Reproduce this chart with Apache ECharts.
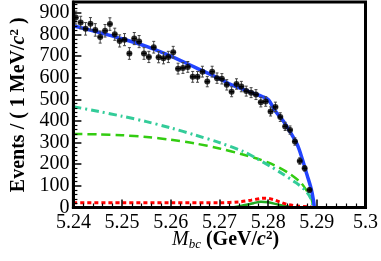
<!DOCTYPE html>
<html><head><meta charset="utf-8">
<script src="https://cdn.jsdelivr.net/npm/echarts@6/dist/echarts.min.js"></script>
<style>html,body{margin:0;padding:0;background:#fff}#c{width:381px;height:261px}</style>
</head><body><div id="c"></div>
<script>
// ---- data ----
const binCenters = [5.2405,5.2415,5.2425,5.2435,5.2445,5.2455,5.2465,5.2475,5.2485,5.2495,
  5.2505,5.2515,5.2525,5.2535,5.2545,5.2555,5.2565,5.2575,5.2585,5.2595,
  5.2605,5.2615,5.2625,5.2635,5.2645,5.2655,5.2665,5.2675,5.2685,5.2695,
  5.2705,5.2715,5.2725,5.2735,5.2745,5.2755,5.2765,5.2775,5.2785,5.2795,
  5.2805,5.2815,5.2825,5.2835,5.2845,5.2855,5.2865,5.2875,5.2885];
const counts = [878,855,826,849,821,788,817,848,801,770,
  776,712,781,767,712,696,741,695,690,696,
  718,642,645,650,604,604,628,582,628,598,
  595,567,535,571,559,538,531,522,487,490,
  444,465,418,375,358,305,215,181,81];
const errors = [30,29,29,29,29,28,29,29,28,28,
  28,27,28,28,27,26,27,26,26,26,
  27,25,25,25,25,25,25,24,25,24,
  24,24,23,24,24,23,23,23,22,22,
  21,22,20,19,19,17,15,13,9];

const totalX = [5.240,5.245,5.250,5.255,5.260,5.265,5.270,5.2725,5.2745,5.2765,5.2788,5.2801,5.2814,5.283,5.2845,5.286,5.287,5.288,5.2888,5.2893,5.2895];
const totalY = [840,811,780,745,700,648,596,567,550,532,513,497,448,403,350,290,225,150,90,35,0];

const bkgAX = [5.240,5.245,5.250,5.255,5.260,5.265,5.270,5.275,5.278,5.2805,5.283,5.2857,5.2877,5.2887,5.2893];
const bkgAY = [466,445,422,397,368,335,300,258,222,190,155,115,78,45,0];

const bkgBX = [5.240,5.245,5.250,5.255,5.260,5.265,5.270,5.275,5.278,5.2807,5.284,5.2867,5.288,5.2889,5.2893];
const bkgBY = [340,338,334,326,313,296,273,244,224,202,162,115,75,40,0];

const peakRX = [5.240,5.250,5.260,5.270,5.274,5.2765,5.2785,5.2795,5.281,5.2825,5.284,5.286,5.2885,5.2895];
const peakRY = [22,22,22,22,26,34,42,43,37,25,14,7,2,0];

const peakGX = [5.240,5.272,5.275,5.277,5.2785,5.280,5.282,5.284,5.286,5.300];
const peakGY = [0,0,10,20,27,24,14,5,0,0];

const flatX = [5.240,5.300];
const flatY = [0,0];

const xTicks = ['5.24','5.25','5.26','5.27','5.28','5.29','5.3'];
const yTicks = [0,100,200,300,400,500,600,700,800,900];

// ---- build ----
const zip = (a,b) => a.map((v,i)=>[v,b[i]]);
const pts = binCenters.map((x,i)=>[x,counts[i],errors[i]]);
const FONT = 'Liberation Serif';

function renderErr(params, api){
  const x = api.value(0), y = api.value(1), e = api.value(2);
  const t = api.coord([x, y+e]);
  const b = api.coord([x, y-e]);
  const l = api.coord([x-0.0005, y]);
  const r = api.coord([x+0.0005, y]);
  const s = {stroke:'#444', lineWidth:1};
  return {type:'group', children:[
    {type:'line', shape:{x1:t[0],y1:t[1],x2:b[0],y2:b[1]}, style:s},
    {type:'line', shape:{x1:t[0]-1.5,y1:t[1],x2:t[0]+1.5,y2:t[1]}, style:s},
    {type:'line', shape:{x1:b[0]-1.5,y1:b[1],x2:b[0]+1.5,y2:b[1]}, style:s},
    {type:'line', shape:{x1:l[0],y1:l[1],x2:r[0],y2:r[1]}, style:{stroke:'#000',lineWidth:1.5}}
  ]};
}

const chart = echarts.init(document.getElementById('c'), null, {renderer:'canvas'});
const lineBase = {type:'line', showSymbol:false, smooth:0.3, silent:true, animation:false};
chart.setOption({
  animation:false,
  backgroundColor:'#fff',
  grid:{left:66, right:12, top:2, bottom:53.5, show:true, borderColor:'#000', borderWidth:3, backgroundColor:'transparent'},
  xAxis:{type:'value', min:5.24, max:5.3, interval:0.01, z:10,
    axisLine:{show:true, onZero:false, lineStyle:{color:'#000', width:3}},
    axisTick:{show:true, inside:true, length:8, lineStyle:{color:'#000', width:1.5}},
    minorTick:{show:true, splitNumber:5, length:4, lineStyle:{color:'#000', width:1.2}},
    splitLine:{show:false},
    axisLabel:{fontFamily:FONT, fontSize:20, color:'#000', margin:5,
      formatter:v=>{const s=parseFloat(v.toFixed(2)).toString(); return xTicks.includes(s)?s:'';}}
  },
  yAxis:{type:'value', min:0, max:950, interval:100, z:10,
    axisLine:{show:true, lineStyle:{color:'#000', width:3}},
    axisTick:{show:true, inside:true, length:8, lineStyle:{color:'#000', width:1.5}},
    minorTick:{show:true, splitNumber:5, length:4, lineStyle:{color:'#000', width:1.2}},
    splitLine:{show:false},
    axisLabel:{fontFamily:FONT, fontSize:20, color:'#000', margin:4,
      formatter:v=>yTicks.includes(Math.round(v)) && Math.abs(v-Math.round(v))<1e-6 ? String(Math.round(v)) : ''},
    name:'Events / ( 1 MeV/{i|c}{sup|2} )', nameLocation:'middle', nameGap:43, nameRotate:90,
    nameTextStyle:{fontFamily:FONT, fontSize:20, fontWeight:'bold', color:'#000',
      rich:{i:{fontFamily:FONT, fontSize:20, fontWeight:'bold', fontStyle:'italic'},
            sup:{fontFamily:FONT, fontSize:13, fontWeight:'bold', verticalAlign:'top', padding:[0,0,8,0]}}}
  },
  graphic:[{type:'text', left:172, top:229, z:20,
    style:{text:'{i|M}{sub|bc} {b|(GeV/}{bi|c}{sup|2}{b|)}', fill:'#000',
      font:'20px '+FONT,
      rich:{i:{fontFamily:FONT, fontSize:20, fontStyle:'italic'},
            sub:{fontFamily:FONT, fontSize:13, fontStyle:'italic', padding:[10,0,0,0]},
            b:{fontFamily:FONT, fontSize:20, fontWeight:'bold'},
            bi:{fontFamily:FONT, fontSize:20, fontWeight:'bold', fontStyle:'italic'},
            sup:{fontFamily:FONT, fontSize:13, fontWeight:'bold', padding:[0,0,9,0]}}}}],
  series:[
    Object.assign({}, lineBase, {data:zip(flatX,flatY), z:1, lineStyle:{color:'#f0a0a0', width:2, type:[2,3]}}),
    Object.assign({}, lineBase, {data:zip(peakGX,peakGY), z:2, lineStyle:{color:'#22aa22', width:2.5}}),
    Object.assign({}, lineBase, {data:zip(peakRX,peakRY), z:3, lineStyle:{color:'#ff0000', width:3, type:[4,3]}}),
    Object.assign({}, lineBase, {data:zip(bkgBX,bkgBY), z:3, lineStyle:{color:'#33cc11', width:2.5, type:[9,5]}}),
    Object.assign({}, lineBase, {data:zip(bkgAX,bkgAY), z:3, lineStyle:{color:'#33cc99', width:3, type:[8,4,2,4]}}),
    Object.assign({}, lineBase, {data:zip(totalX,totalY), z:4, lineStyle:{color:'#2244ff', width:3.5}}),
    {type:'custom', data:pts, renderItem:renderErr, z:5, silent:true, animation:false, encode:{x:0,y:1}},
    {type:'scatter', data:pts.map(p=>[p[0],p[1]]), symbol:'circle', symbolSize:6, itemStyle:{color:'#000'}, z:6, silent:true, animation:false}
  ]
});
</script></body></html>
